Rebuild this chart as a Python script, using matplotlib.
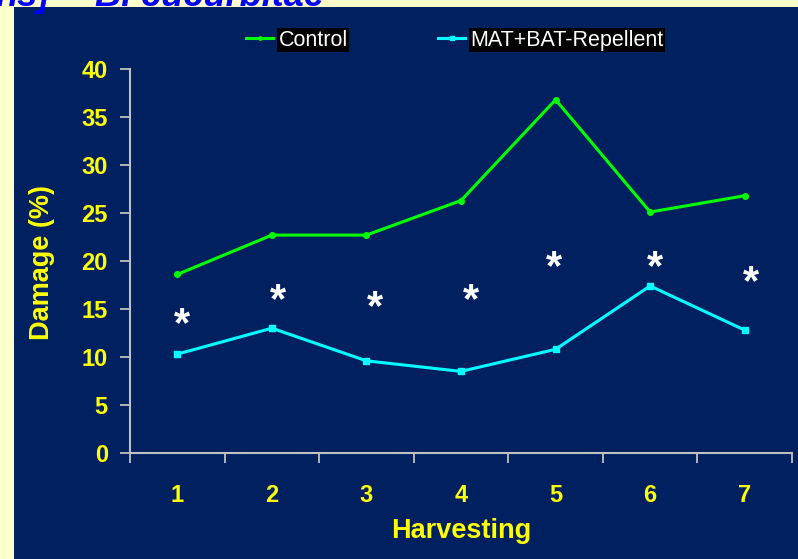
import matplotlib
matplotlib.use("Agg")
import matplotlib.pyplot as plt
from matplotlib.patches import Rectangle
from matplotlib.ticker import FixedLocator, NullFormatter, FixedFormatter
from matplotlib import transforms

# ---- data ----
harvests = [1, 2, 3, 4, 5, 6, 7]
harvest_labels = ["1", "2", "3", "4", "5", "6", "7"]
control = [18.6, 22.7, 22.7, 26.3, 36.8, 25.1, 26.8]
repellent = [10.3, 13.0, 9.6, 8.5, 10.8, 17.4, 12.8]
star_x = [1.05, 2.07, 3.09, 4.11, 4.98, 6.05, 7.07]
star_y = [13.9, 16.5, 15.7, 16.5, 19.9, 19.9, 18.3]
series_names = ["Control", "MAT+BAT-Repellent"]
y_ticks = [0, 5, 10, 15, 20, 25, 30, 35, 40]

NAVY = "#002060"
CREAM = "#FFFFCC"
YELLOW = "#FFFF00"
AXCOL = "#C0C0C0"
FONT = "Liberation Sans"

W, H = 798, 559
fig = plt.figure(figsize=(W / 100, H / 100), dpi=100, facecolor=CREAM)

# navy panel
fig.patches.append(Rectangle((14 / W, 0), 1 - 14 / W, 1 - 7 / H, transform=fig.transFigure,
                             facecolor=NAVY, edgecolor="none", zorder=0.5))

# title, mostly beyond the top edge (as in the reference)
fig.text(50 / W, 1 - 6 / H, "ns]", color="#0000FF", fontsize=26, fontweight="bold",
         fontstyle="italic", family=FONT, ha="right", va="baseline", zorder=0.8)
fig.text(95 / W, 1 - 6 / H, "B. cucurbitae", color="#0000FF", fontsize=26, fontweight="bold",
         fontstyle="italic", family=FONT, ha="left", va="baseline", zorder=0.8)

ax = fig.add_axes([130 / W, 1 - 453 / H, (792 - 130) / W, (453 - 69) / H], zorder=1)
ax.set_facecolor(NAVY)

ax.plot(harvests, control, color="#00FF00", lw=2.2, marker="o", ms=4, mec="#00FF00",
        label=series_names[0], clip_on=False)
ax.plot(harvests, repellent, color="#00FFFF", lw=2.2, marker="s", ms=4, mec="#00FFFF",
        label=series_names[1], clip_on=False)

star_tr = transforms.offset_copy(ax.transData, fig=fig, x=0, y=-6, units="dots")
for xs, ys in zip(star_x, star_y):
    ax.text(xs, ys, "*", color="white", fontsize=30, fontweight="bold",
            family=FONT, ha="center", va="center", transform=star_tr)

ax.set_xlim(0.5, 7.5)
ax.set_ylim(0, 40)

for s in ["top", "right"]:
    ax.spines[s].set_visible(False)
for s in ["left", "bottom"]:
    ax.spines[s].set_color(AXCOL)
    ax.spines[s].set_linewidth(1.5)

ax.xaxis.set_major_locator(FixedLocator([0.5 + i for i in range(8)]))
ax.xaxis.set_major_formatter(NullFormatter())
ax.xaxis.set_minor_locator(FixedLocator(harvests))
ax.xaxis.set_minor_formatter(FixedFormatter(harvest_labels))
ax.tick_params(axis="x", which="major", length=7, width=1.3, color=AXCOL, direction="out")
ax.tick_params(axis="x", which="minor", length=0, pad=22, labelsize=17, labelcolor=YELLOW)

ax.set_yticks(y_ticks)
ax.tick_params(axis="y", length=7, width=1.3, color=AXCOL, direction="out", pad=9,
               labelsize=17, labelcolor=YELLOW)
for lab in ax.get_xticklabels(minor=True) + ax.get_yticklabels():
    lab.set_family(FONT)
    lab.set_fontweight("bold")

fig.text(42 / W, 1 - 262 / H, "Damage (%)", rotation=90, color=YELLOW, fontsize=19.5,
         fontweight="bold", family=FONT, ha="center", va="center", zorder=2)
fig.text(461 / W, 1 - 531 / H, "Harvesting", color=YELLOW, fontsize=19.5,
         fontweight="bold", family=FONT, ha="center", va="center", zorder=2)

leg = ax.legend(loc="center", bbox_to_anchor=(0.491, 1.0755), ncol=2, frameon=False,
                handlelength=1.25, handletextpad=0.25, columnspacing=4.2,
                prop={"family": FONT, "size": 15.5}, markerscale=0.6)
for t in leg.get_texts():
    t.set_color("white")
    t.set_bbox(dict(facecolor="black", edgecolor="none", pad=1))

fig.savefig("out.png", dpi=100, facecolor=CREAM)
